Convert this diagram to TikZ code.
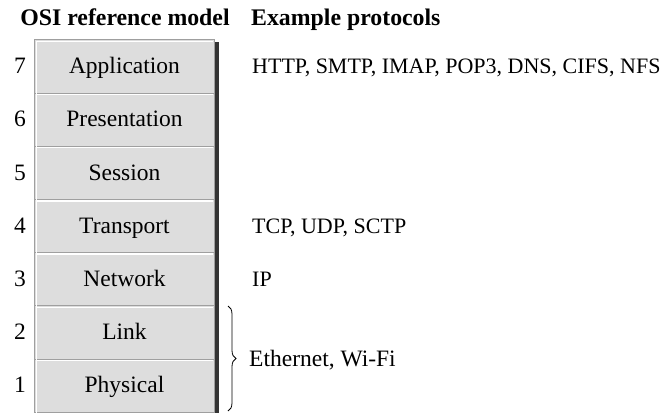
\documentclass[tikz,border=0pt]{standalone}
\usepackage{fontspec}
\setmainfont{Liberation Serif}
\usetikzlibrary{decorations.pathreplacing}
\tikzset{
  layer/.style={draw=gray!75, fill=gray!27, minimum width=180pt, minimum height=53.2pt, inner sep=0pt},
  txt/.style={font=\fontsize{23.5}{27}\selectfont, inner sep=0pt, anchor=base},
  caps/.style={font=\fontsize{22}{25}\selectfont, inner sep=0pt, anchor=base west},
  hdr/.style={font=\fontsize{23.8}{27}\selectfont\bfseries, inner sep=0pt, anchor=base}
}
\begin{document}
\begin{tikzpicture}[x=1pt,y=-1pt]
\useasboundingbox (0,0) rectangle (665,413);
% headers
\node[hdr] (hmodel) at (125,25) {OSI reference model};
\node[hdr,anchor=base west] (hproto) at (251,25) {Example protocols};

% shadow on the right
\fill[black!80] (215,42) rectangle (218.5,413);

% layers
\node[layer] (l7) at (124.5,66.1) {};
\node[layer] (l6) at (124.5,119.3) {};
\node[layer] (l5) at (124.5,172.5) {};
\node[layer] (l4) at (124.5,225.7) {};
\node[layer] (l3) at (124.5,278.9) {};
\node[layer] (l2) at (124.5,332.1) {};
\node[layer] (l1) at (124.5,385.3) {};
\foreach \l in {l7,l6,l5,l4,l3,l2,l1}
  \draw[white,line width=1.3pt] ([xshift=2pt,yshift=-3pt]\l.south west) |- ([xshift=-2pt,yshift=-2pt]\l.north east);

\node[txt] (n7) at ([yshift=-7.5pt]l7) {Application};
\node[txt] (n6) at ([yshift=-7.5pt]l6) {Presentation};
\node[txt] (n5) at ([yshift=-7.5pt]l5) {Session};
\node[txt] (n4) at ([yshift=-7.5pt]l4) {Transport};
\node[txt] (n3) at ([yshift=-7.5pt]l3) {Network};
\node[txt] (n2) at ([yshift=-7.5pt]l2) {Link};
\node[txt] (n1) at ([yshift=-7.5pt]l1) {Physical};

% layer numbers
\node[txt] (k7) at (20,73.6) {7};
\node[txt] (k6) at (20,126.8) {6};
\node[txt] (k5) at (20,180) {5};
\node[txt] (k4) at (20,233.2) {4};
\node[txt] (k3) at (20,286.4) {3};
\node[txt] (k2) at (20,339.6) {2};
\node[txt] (k1) at (20,392.8) {1};

% protocols
\node[caps] (p7) at (252,73.6) {HTTP, SMTP, IMAP, POP3, DNS, CIFS, NFS};
\node[caps] (p4) at (252,233.2) {TCP, UDP, SCTP};
\node[caps] (p3) at (252,286.4) {IP};
\coordinate (btop) at (228,306);
\coordinate (bbot) at (228,411);
\draw[decorate,decoration={brace,amplitude=8pt},line width=0.8pt] (btop) -- (bbot);
\node[txt,anchor=base west] (p12) at (249,366.2) {Ethernet, Wi-Fi};
\end{tikzpicture}
\end{document}
